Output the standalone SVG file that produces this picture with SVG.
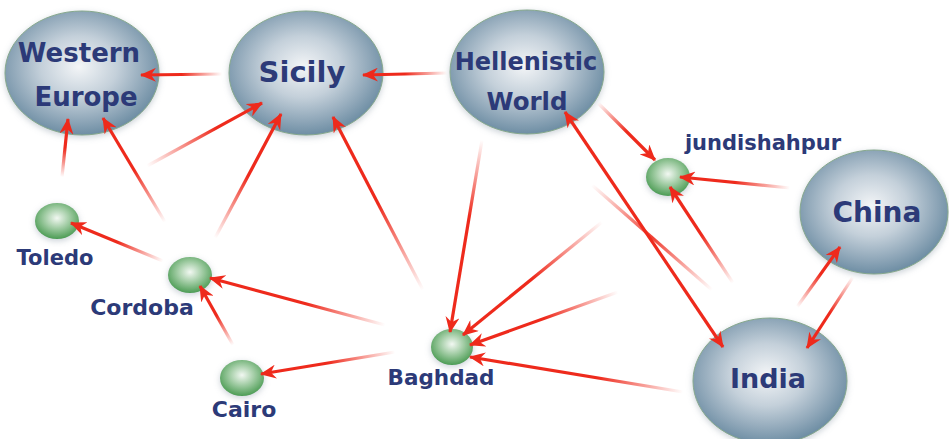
<svg xmlns="http://www.w3.org/2000/svg" width="949" height="439" viewBox="0 0 949 439">
<style>
.big{fill:url(#gBig);stroke:#86a88c;stroke-width:1;filter:url(#glow)}
.small{fill:url(#gSmall);filter:url(#glow)}
.lbl{font-family:"DejaVu Sans",Verdana,sans-serif;font-weight:bold;fill:#2c3a78;text-anchor:middle}
.c{fill:none;stroke-width:3.2}
</style>
<defs>
<radialGradient id="gBig" cx="48%" cy="45%" r="55%">
<stop offset="0" stop-color="#f3f5f7"/>
<stop offset="0.45" stop-color="#c4d0da"/>
<stop offset="0.8" stop-color="#8ea6b8"/>
<stop offset="1" stop-color="#6e8ea4"/>
</radialGradient>
<radialGradient id="gSmall" cx="50%" cy="42%" r="58%">
<stop offset="0" stop-color="#f2f8f2"/>
<stop offset="0.5" stop-color="#9fcba2"/>
<stop offset="1" stop-color="#4c9c54"/>
</radialGradient>
<filter id="glow" x="-20%" y="-20%" width="140%" height="140%">
<feDropShadow dx="0" dy="2" stdDeviation="3" flood-color="#8b9aa8" flood-opacity="0.45"/>
</filter>
<marker id="ah" viewBox="0 0 16 14" refX="15" refY="7" markerWidth="16" markerHeight="14" markerUnits="userSpaceOnUse" orient="auto-start-reverse">
<path d="M0,0 L16,7 L0,14 L5,7 z" fill="#ee2a1c"/>
</marker>
<linearGradient id="l1" gradientUnits="userSpaceOnUse" x1="222" y1="74" x2="141" y2="75"><stop offset="0" stop-color="#ee2a1c" stop-opacity="0"/><stop offset="0.5" stop-color="#ee2a1c"/></linearGradient>
<linearGradient id="l2" gradientUnits="userSpaceOnUse" x1="447" y1="73" x2="363" y2="75"><stop offset="0" stop-color="#ee2a1c" stop-opacity="0"/><stop offset="0.5" stop-color="#ee2a1c"/></linearGradient>
<linearGradient id="l3" gradientUnits="userSpaceOnUse" x1="62" y1="177" x2="68" y2="119"><stop offset="0" stop-color="#ee2a1c" stop-opacity="0"/><stop offset="0.5" stop-color="#ee2a1c"/></linearGradient>
<linearGradient id="l4" gradientUnits="userSpaceOnUse" x1="165" y1="222" x2="103" y2="118"><stop offset="0" stop-color="#ee2a1c" stop-opacity="0"/><stop offset="0.5" stop-color="#ee2a1c"/></linearGradient>
<linearGradient id="l5" gradientUnits="userSpaceOnUse" x1="147" y1="166" x2="262" y2="103"><stop offset="0" stop-color="#ee2a1c" stop-opacity="0"/><stop offset="0.6" stop-color="#ee2a1c"/></linearGradient>
<linearGradient id="l6" gradientUnits="userSpaceOnUse" x1="215" y1="238" x2="281" y2="114"><stop offset="0" stop-color="#ee2a1c" stop-opacity="0"/><stop offset="0.5" stop-color="#ee2a1c"/></linearGradient>
<linearGradient id="l7" gradientUnits="userSpaceOnUse" x1="423" y1="290" x2="333" y2="117"><stop offset="0" stop-color="#ee2a1c" stop-opacity="0"/><stop offset="0.5" stop-color="#ee2a1c"/></linearGradient>
<linearGradient id="l8" gradientUnits="userSpaceOnUse" x1="482" y1="140" x2="450" y2="332"><stop offset="0" stop-color="#ee2a1c" stop-opacity="0"/><stop offset="0.4" stop-color="#ee2a1c"/></linearGradient>
<linearGradient id="l9" gradientUnits="userSpaceOnUse" x1="602" y1="222" x2="463" y2="335"><stop offset="0" stop-color="#ee2a1c" stop-opacity="0"/><stop offset="0.5" stop-color="#ee2a1c"/></linearGradient>
<linearGradient id="l10" gradientUnits="userSpaceOnUse" x1="618" y1="292" x2="470" y2="345"><stop offset="0" stop-color="#ee2a1c" stop-opacity="0"/><stop offset="0.5" stop-color="#ee2a1c"/></linearGradient>
<linearGradient id="l11" gradientUnits="userSpaceOnUse" x1="683" y1="392" x2="470" y2="357"><stop offset="0" stop-color="#ee2a1c" stop-opacity="0"/><stop offset="0.4" stop-color="#ee2a1c"/></linearGradient>
<linearGradient id="l12" gradientUnits="userSpaceOnUse" x1="385" y1="325" x2="210" y2="278"><stop offset="0" stop-color="#ee2a1c" stop-opacity="0"/><stop offset="0.45" stop-color="#ee2a1c"/></linearGradient>
<linearGradient id="l13" gradientUnits="userSpaceOnUse" x1="395" y1="352" x2="261" y2="374"><stop offset="0" stop-color="#ee2a1c" stop-opacity="0"/><stop offset="0.5" stop-color="#ee2a1c"/></linearGradient>
<linearGradient id="l14" gradientUnits="userSpaceOnUse" x1="233" y1="345" x2="200" y2="286"><stop offset="0" stop-color="#ee2a1c" stop-opacity="0"/><stop offset="0.5" stop-color="#ee2a1c"/></linearGradient>
<linearGradient id="l15" gradientUnits="userSpaceOnUse" x1="163" y1="261" x2="71" y2="223"><stop offset="0" stop-color="#ee2a1c" stop-opacity="0"/><stop offset="0.5" stop-color="#ee2a1c"/></linearGradient>
<linearGradient id="l16" gradientUnits="userSpaceOnUse" x1="598" y1="103" x2="655" y2="160"><stop offset="0" stop-color="#ee2a1c" stop-opacity="0"/><stop offset="0.5" stop-color="#ee2a1c"/></linearGradient>
<linearGradient id="l17" gradientUnits="userSpaceOnUse" x1="790" y1="188" x2="680" y2="177"><stop offset="0" stop-color="#ee2a1c" stop-opacity="0"/><stop offset="0.5" stop-color="#ee2a1c"/></linearGradient>
<linearGradient id="l18" gradientUnits="userSpaceOnUse" x1="733" y1="283" x2="670" y2="187"><stop offset="0" stop-color="#ee2a1c" stop-opacity="0"/><stop offset="0.5" stop-color="#ee2a1c"/></linearGradient>
<linearGradient id="l20" gradientUnits="userSpaceOnUse" x1="797" y1="307" x2="840" y2="247"><stop offset="0" stop-color="#ee2a1c" stop-opacity="0"/><stop offset="0.55" stop-color="#ee2a1c"/></linearGradient>
<linearGradient id="l21" gradientUnits="userSpaceOnUse" x1="853" y1="277" x2="807" y2="348"><stop offset="0" stop-color="#ee2a1c" stop-opacity="0"/><stop offset="0.5" stop-color="#ee2a1c"/></linearGradient>
<linearGradient id="l22" gradientUnits="userSpaceOnUse" x1="592" y1="185" x2="712" y2="290"><stop offset="0" stop-color="#ee2a1c" stop-opacity="0"/><stop offset="0.5" stop-color="#ee2a1c" stop-opacity="0.9"/><stop offset="1" stop-color="#ee2a1c" stop-opacity="0"/></linearGradient>
</defs>
<rect width="949" height="439" fill="#ffffff"/>

<g id="node-western-europe">
<ellipse class="big" cx="82" cy="73" rx="77" ry="62"/>
<text class="lbl" x="79" y="62" font-size="26">Western</text>
<text class="lbl" x="86" y="106" font-size="26">Europe</text>
</g>
<g id="node-sicily">
<ellipse class="big" cx="306" cy="73" rx="77" ry="62"/>
<text class="lbl" x="302" y="82" font-size="29">Sicily</text>
</g>
<g id="node-hellenistic-world">
<ellipse class="big" cx="527" cy="72" rx="77" ry="62"/>
<text class="lbl" x="526" y="70" font-size="24">Hellenistic</text>
<text class="lbl" x="527" y="110" font-size="24.5">World</text>
</g>
<g id="node-china">
<ellipse class="big" cx="874" cy="212" rx="74" ry="62"/>
<text class="lbl" x="877" y="222" font-size="28">China</text>
</g>
<g id="node-india">
<ellipse class="big" cx="770" cy="381" rx="77" ry="63"/>
<text class="lbl" x="768" y="388" font-size="27">India</text>
</g>
<g id="node-toledo">
<ellipse class="small" cx="57" cy="221" rx="22" ry="18"/>
<text class="lbl" x="55" y="265" font-size="21">Toledo</text>
</g>
<g id="node-cordoba">
<ellipse class="small" cx="190" cy="275" rx="22" ry="18"/>
<text class="lbl" x="142" y="315" font-size="22">Cordoba</text>
</g>
<g id="node-cairo">
<ellipse class="small" cx="242" cy="378" rx="22" ry="18"/>
<text class="lbl" x="244" y="417" font-size="22">Cairo</text>
</g>
<g id="node-baghdad">
<ellipse class="small" cx="452" cy="347" rx="21" ry="18"/>
<text class="lbl" x="441" y="385" font-size="21.5">Baghdad</text>
</g>
<g id="node-jundishahpur">
<ellipse class="small" cx="668" cy="177" rx="22" ry="19"/>
<text class="lbl" x="763" y="150" font-size="21">jundishahpur</text>
</g>

<g id="connectors">
<line class="c" x1="222" y1="74" x2="141" y2="75" stroke="url(#l1)" marker-end="url(#ah)"/>
<line class="c" x1="447" y1="73" x2="363" y2="75" stroke="url(#l2)" marker-end="url(#ah)"/>
<line class="c" x1="62" y1="177" x2="68" y2="119" stroke="url(#l3)" marker-end="url(#ah)"/>
<line class="c" x1="165" y1="222" x2="103" y2="118" stroke="url(#l4)" marker-end="url(#ah)"/>
<line class="c" x1="147" y1="166" x2="262" y2="103" stroke="url(#l5)" marker-end="url(#ah)"/>
<line class="c" x1="215" y1="238" x2="281" y2="114" stroke="url(#l6)" marker-end="url(#ah)"/>
<line class="c" x1="423" y1="290" x2="333" y2="117" stroke="url(#l7)" marker-end="url(#ah)"/>
<line class="c" x1="482" y1="140" x2="450" y2="332" stroke="url(#l8)" marker-end="url(#ah)"/>
<line class="c" x1="602" y1="222" x2="463" y2="335" stroke="url(#l9)" marker-end="url(#ah)"/>
<line class="c" x1="618" y1="292" x2="470" y2="345" stroke="url(#l10)" marker-end="url(#ah)"/>
<line class="c" x1="683" y1="392" x2="470" y2="357" stroke="url(#l11)" marker-end="url(#ah)"/>
<line class="c" x1="385" y1="325" x2="210" y2="278" stroke="url(#l12)" marker-end="url(#ah)"/>
<line class="c" x1="395" y1="352" x2="261" y2="374" stroke="url(#l13)" marker-end="url(#ah)"/>
<line class="c" x1="233" y1="345" x2="200" y2="286" stroke="url(#l14)" marker-end="url(#ah)"/>
<line class="c" x1="163" y1="261" x2="71" y2="223" stroke="url(#l15)" marker-end="url(#ah)"/>
<line class="c" x1="598" y1="103" x2="655" y2="160" stroke="url(#l16)" marker-end="url(#ah)"/>
<line class="c" x1="790" y1="188" x2="680" y2="177" stroke="url(#l17)" marker-end="url(#ah)"/>
<line class="c" x1="733" y1="283" x2="670" y2="187" stroke="url(#l18)" marker-end="url(#ah)"/>
<line class="c" x1="565" y1="112" x2="723" y2="347" stroke="#ee2a1c" marker-start="url(#ah)" marker-end="url(#ah)"/>
<line class="c" x1="797" y1="307" x2="840" y2="247" stroke="url(#l20)" marker-end="url(#ah)"/>
<line class="c" x1="853" y1="277" x2="807" y2="348" stroke="url(#l21)" marker-end="url(#ah)"/>
<line class="c" x1="592" y1="185" x2="712" y2="290" stroke="url(#l22)"/>
</g>
</svg>
